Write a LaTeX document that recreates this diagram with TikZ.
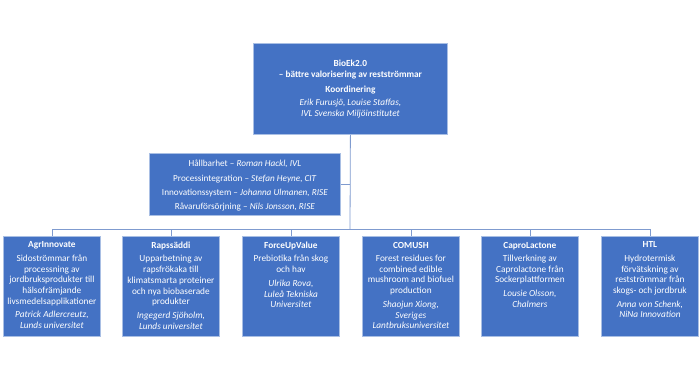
\documentclass[tikz,border=0pt]{standalone}
\usepackage{fontspec}
\setmainfont{Carlito}
\definecolor{boxblue}{HTML}{4472C4}
\definecolor{boxedge}{HTML}{A9BFE4}
\definecolor{linkcol}{HTML}{7F9BCF}
\begin{document}
\begin{tikzpicture}[x=1pt,y=-1pt,
  box/.style={draw=boxedge,line width=0.8pt,fill=boxblue,text=white,inner sep=0pt,anchor=north west},
  link/.style={draw=linkcol,line width=0.8pt},
  bfont/.style={font=\fontsize{9.3}{10.7}\selectfont}]
\useasboundingbox (0,0) rectangle (700,380);
\fill[white] (0,0) rectangle (700,380);
% top box
\node[box,bfont,minimum width=194pt,minimum height=91pt,align=center] (top) at (253,43)
 {\textbf{BioEk2.0}\\\textbf{– bättre valorisering av restströmmar}\\[4.5pt]
  \textbf{Koordinering}\\[2.5pt]\textit{Erik Furusjö, Louise Staffas,}\\\textit{IVL Svenska Miljöinstitutet}};
% middle box
\node[box,font=\fontsize{9.2}{14.3}\selectfont] (mid) at (149,153)
 {\parbox[t][62pt][t]{191pt}{\centering\vspace{7pt}Hållbarhet – \textit{Roman Hackl, IVL}\\Processintegration – \textit{Stefan Heyne, CIT}\\
  Innovationssystem – \textit{Johanna Ulmanen, RISE}\\Råvaruförsörjning – \textit{Nils Jonsson, RISE}}};
% bottom boxes
\newcommand{\projbox}[5]{%
 \node[box,bfont] (#1) at (#2,236)
 {\parbox[t][100pt][t]{97pt}{\centering\vspace{5.5pt}\textbf{#3}\\[2.8pt]#4\\[3pt]\textit{#5}}};}
\projbox{b1}{3}{AgrInnovate}{Sidoströmmar från\\processning av\\jordbruksprodukter till\\hälsofrämjande\\livsmedelsapplikationer}{Patrick Adlercreutz,\\Lunds universitet}
\projbox{b2}{122}{Rapssäddi}{Upparbetning av\\rapsfrökaka till\\klimatsmarta proteiner\\och nya biobaserade\\produkter}{Ingegerd Sjöholm,\\Lunds universitet}
\projbox{b3}{242}{ForceUpValue}{Prebiotika från skog\\och hav}{Ulrika Rova,\\Luleå Tekniska\\Universitet}
\projbox{b4}{362}{COMUSH}{Forest residues for\\combined edible\\mushroom and biofuel\\production}{Shaojun Xiong,\\Sveriges\\Lantbruksuniversitet}
\projbox{b5}{481}{CaproLactone}{Tillverkning av\\Caprolactone från\\Sockerplattformen}{Lousie Olsson,\\Chalmers}
\projbox{b6}{601}{HTL}{Hydrotermisk\\förvätskning av\\restströmmar från\\skogs- och jordbruk}{Anna von Schenk,\\NiNa Innovation}
% connectors
\coordinate (bus) at (350,229);
\draw[link] (top.south) -- (bus);
\draw[link] (mid.east) -- (mid.east -| top.south);
\foreach \b in {b1,b2,b3,b4,b5,b6} \draw[link] (bus) -| (\b.north);
\end{tikzpicture}
\end{document}
